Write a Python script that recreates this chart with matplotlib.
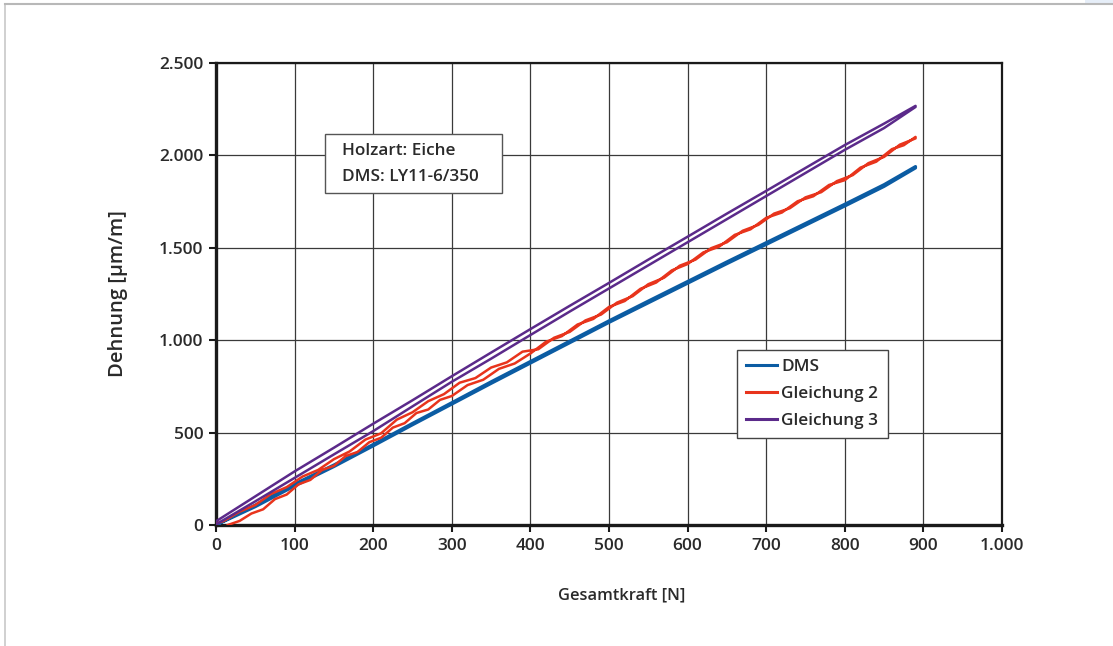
import numpy as np
import matplotlib
matplotlib.use('Agg')
import matplotlib.pyplot as plt
from matplotlib.patches import Rectangle
from matplotlib.lines import Line2D
from matplotlib.ticker import FuncFormatter

# Belastung (hoch) und Entlastung (runter) je Messreihe
F_DMS_UP = [0, 50, 100, 150, 200, 250, 300, 350, 400, 450, 500, 550, 600, 650, 700, 750, 800, 850, 890]
DMS_UP = [0, 108, 222, 325, 436, 550, 662, 775, 885, 995, 1105, 1212, 1318, 1424, 1528, 1632, 1736, 1842, 1940]
F_DMS_DOWN = [890, 850, 800, 750, 700, 650, 600, 550, 500, 450, 400, 350, 300, 250, 200, 150, 100, 50, 0]
DMS_DOWN = [1932, 1832, 1726, 1622, 1518, 1414, 1308, 1202, 1096, 986, 876, 766, 654, 542, 428, 316, 211, 99, 0]

F_G2_UP = [15, 30, 45, 60, 75, 90, 105, 120, 135, 150, 165, 180, 195, 210, 225, 240, 255, 270, 285, 300,
           320, 340, 360, 380, 400, 420, 440, 460, 480, 500, 520, 540, 560, 580, 600, 620, 640, 660, 680,
           700, 720, 740, 760, 780, 800, 820, 840, 860, 875, 890]
G2_UP = [0, 22, 62, 85, 140, 165, 220, 244, 298, 320, 373, 395, 448, 472, 527, 551, 606, 625, 677, 698,
         757, 786, 845, 874, 928, 992, 1022, 1085, 1115, 1180, 1212, 1278, 1312, 1378, 1412, 1475, 1506, 1570, 1600,
         1662, 1691, 1752, 1779, 1840, 1866, 1934, 1966, 2034, 2055, 2100]
F_G2_DOWN = [890, 870, 850, 830, 810, 790, 770, 750, 730, 710, 690, 670, 650, 630, 610, 590, 570, 550, 530,
             510, 490, 470, 450, 430, 410, 390, 370, 350, 330, 310, 290, 270, 250, 230, 210, 190, 170, 150,
             130, 110, 90, 70, 50, 30, 10, 0]
G2_DOWN = [2092, 2058, 1992, 1958, 1893, 1861, 1801, 1773, 1714, 1685, 1624, 1592, 1530, 1498, 1436, 1403, 1338, 1303, 1238,
           1203, 1139, 1107, 1045, 1013, 951, 938, 880, 852, 795, 770, 708, 670, 610, 570, 496, 462, 398, 356,
           298, 262, 205, 168, 108, 72, 22, 8]

F_G3_UP = [0, 50, 100, 150, 200, 250, 300, 350, 400, 450, 500, 550, 600, 650, 700, 750, 800, 850, 890]
G3_UP = [3, 128, 255, 382, 508, 642, 775, 900, 1028, 1155, 1280, 1405, 1530, 1655, 1780, 1905, 2030, 2148, 2262]
F_G3_DOWN = [890, 850, 800, 750, 700, 650, 600, 550, 500, 450, 400, 350, 300, 250, 200, 150, 100, 50, 0]
G3_DOWN = [2268, 2172, 2056, 1932, 1808, 1685, 1560, 1436, 1310, 1186, 1060, 933, 805, 675, 548, 418, 290, 155, 20]

SERIES = ["DMS", "Gleichung 2", "Gleichung 3"]
COLORS = ["#0b5ca3", "#e8341c", "#5b2a8a"]

plt.rcParams['font.family'] = ['Open Sans', 'DejaVu Sans']
TXT = "#2a2a2a"

fig = plt.figure(figsize=(11.13, 6.46), dpi=100)
ax = fig.add_axes([216/1113, 1 - 525/646, (1002-216)/1113, (525-63)/646])

# Rahmen der Seite
fig.add_artist(Line2D([5/1113, 5/1113], [0, 1 - 4/646], transform=fig.transFigure, color="#c8c8c8", lw=1.2))
fig.add_artist(Line2D([5/1113, 1], [1 - 4/646, 1 - 4/646], transform=fig.transFigure, color="#b8b8b8", lw=1.5))
fig.add_artist(Rectangle((1085/1113, 1 - 4/646), 28/1113, 4/646, transform=fig.transFigure,
                         color="#e6eef8", lw=0))

ax.plot(F_DMS_UP + F_DMS_DOWN, DMS_UP + DMS_DOWN, color=COLORS[0], lw=2.2, zorder=3)
ax.plot(F_G2_UP + F_G2_DOWN, G2_UP + G2_DOWN, color=COLORS[1], lw=1.8, zorder=4)
ax.plot(F_G3_UP + F_G3_DOWN, G3_UP + G3_DOWN, color=COLORS[2], lw=1.8, zorder=5)

ax.set_xlim(0, 1000)
ax.set_ylim(0, 2500)
ax.set_xticks(np.arange(0, 1001, 100))
ax.set_yticks(np.arange(0, 2501, 500))
fmt = FuncFormatter(lambda v, p: f"{int(v):,}".replace(",", "."))
ax.xaxis.set_major_formatter(fmt)
ax.yaxis.set_major_formatter(fmt)
ax.grid(True, color="#3a3a3a", lw=0.9, zorder=1)
ax.set_axisbelow(True)
for s in ax.spines.values():
    s.set_color("#1a1a1a")
    s.set_linewidth(1.6)
ax.spines['left'].set_linewidth(2.4)
ax.spines['bottom'].set_linewidth(2.4)
ax.tick_params(direction='out', length=5, width=1.5, colors="#1a1a1a", labelsize=12.5,
               labelcolor=TXT, pad=4)
for lbl in ax.get_xticklabels() + ax.get_yticklabels():
    lbl.set_fontweight('semibold')

ax.set_xlabel("Gesamtkraft [N]", fontsize=11.8, fontweight='semibold', color=TXT)
ax.xaxis.set_label_coords((622-216)/786, -(595-525)/462)
ax.set_ylabel("Dehnung [µm/m]", fontsize=14.5, fontweight='semibold', color=TXT)
ax.yaxis.set_label_coords(-(216-118)/786, 0.5)
ax.yaxis.label.set_va('center')
ax.xaxis.label.set_va('center')

# Infokasten
ax.add_patch(Rectangle((0.1387, 0.7186), 0.2252, 0.1277, transform=ax.transAxes, facecolor='white',
                       edgecolor='#555555', lw=1.0, zorder=6))
ax.text(0.160, 0.8095, "Holzart: Eiche", transform=ax.transAxes, fontsize=12.3, fontweight='semibold',
        color=TXT, va='center', ha='left', zorder=7)
ax.text(0.160, 0.7532, "DMS: LY11-6/350", transform=ax.transAxes, fontsize=12.3, fontweight='semibold',
        color=TXT, va='center', ha='left', zorder=7)

handles = [Line2D([], [], color=c, lw=2.2) for c in COLORS]
leg = ax.legend(handles, SERIES, loc='upper left', bbox_to_anchor=(0.6628, 0.3788), fontsize=12.3,
                frameon=True, fancybox=False, handlelength=1.8, handletextpad=0.25,
                labelspacing=0.62, borderpad=0.55, borderaxespad=0, framealpha=1)
leg.get_frame().set_edgecolor('#444444')
leg.get_frame().set_linewidth(1.0)
for t in leg.get_texts():
    t.set_fontweight('semibold')
    t.set_color(TXT)
leg.set_zorder(7)

fig.savefig("out.png", dpi=100, facecolor='white')
